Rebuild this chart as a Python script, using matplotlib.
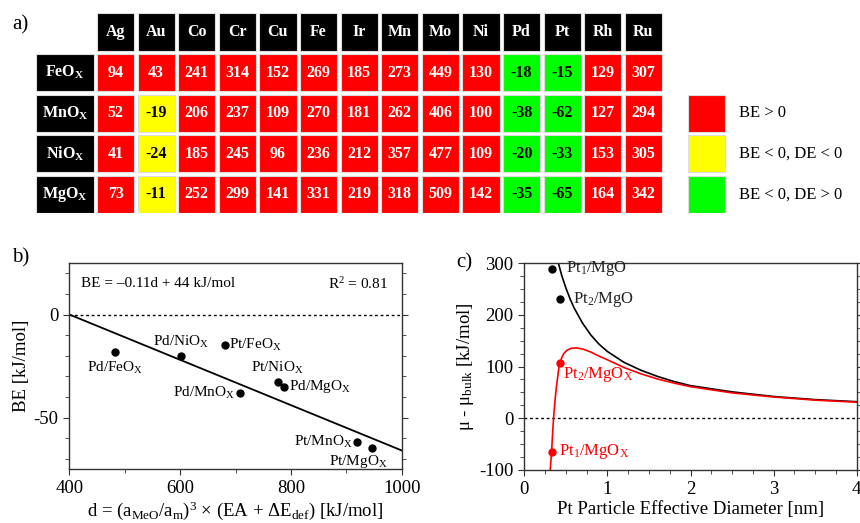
import matplotlib
matplotlib.use("Agg")
import matplotlib.pyplot as plt
from matplotlib.patches import Rectangle
from matplotlib.ticker import MultipleLocator
import numpy as np

plt.rcParams['font.family'] = ['Liberation Serif', 'DejaVu Serif']
plt.rcParams['mathtext.fontset'] = 'custom'
plt.rcParams['mathtext.rm'] = 'Liberation Serif'
plt.rcParams['mathtext.it'] = 'Liberation Serif:italic'
plt.rcParams['mathtext.bf'] = 'Liberation Serif:bold'
plt.rcParams['axes.unicode_minus'] = False

# ---- data: panel a (binding energies, kJ/mol) ----
metals = ['Ag', 'Au', 'Co', 'Cr', 'Cu', 'Fe', 'Ir', 'Mn', 'Mo', 'Ni', 'Pd', 'Pt', 'Rh', 'Ru']
supports = ['FeO', 'MnO', 'NiO', 'MgO']
be_feo = [94, 43, 241, 314, 152, 269, 185, 273, 449, 130, -18, -15, 129, 307]
be_mno = [52, -19, 206, 237, 109, 270, 181, 262, 406, 100, -38, -62, 127, 294]
be_nio = [41, -24, 185, 245, 96, 236, 212, 357, 477, 109, -20, -33, 153, 305]
be_mgo = [73, -11, 252, 299, 141, 331, 219, 318, 509, 142, -35, -65, 164, 342]
de_negative = ['Au']  # metals with DE < 0
legend_labels = ['BE > 0', 'BE < 0, DE < 0', 'BE < 0, DE > 0']

# ---- data: panel b ----
b_labels = ['Pd/FeO', 'Pd/NiO', 'Pt/FeO', 'Pd/MnO', 'Pt/NiO', 'Pd/MgO', 'Pt/MnO', 'Pt/MgO']
b_d = [483, 602, 681, 708, 776, 788, 920, 947]
b_be = [-18, -20, -15, -38, -33, -35, -62, -65]
fit_slope = -0.11
fit_icpt = 44

# ---- data: panel c ----
mgo_d = [0.41, 0.45, 0.5, 0.55, 0.6, 0.7, 0.8, 0.9, 1.0, 1.2, 1.4, 1.6, 1.8, 2.0, 2.5, 3.0, 3.5, 4.0]
mgo_mu = [300, 276, 252, 231, 213, 184, 161, 143, 129, 108, 93, 81, 71, 63, 51, 42, 36, 32]
mgox_d = [0.312, 0.321, 0.328, 0.337, 0.344, 0.352, 0.362, 0.373, 0.386, 0.402, 0.418, 0.43,
          0.45, 0.475, 0.51, 0.56, 0.62, 0.7, 0.8, 0.9, 1.0, 1.2, 1.4, 1.6, 1.8, 2.0,
          2.5, 3.0, 3.5, 4.0]
mgox_mu = [-100, -80, -65, -40, -20, 0, 20, 40, 60, 80, 100, 107,
           117, 125, 131, 135, 136, 134, 128, 120, 113, 98, 86, 76, 68, 61,
           49, 41, 35, 31]
pts_mgo_d = [0.33, 0.425]
pts_mgo_mu = [289, 230]
pts_mgox_d = [0.328, 0.43]
pts_mgox_mu = [-65, 107]

W, H = 860, 523
fig = plt.figure(figsize=(W / 100, H / 100), dpi=100)


def px_axes(x0, y0, x1, y1):
    return fig.add_axes([x0 / W, 1 - y1 / H, (x1 - x0) / W, (y1 - y0) / H])


# ================= panel a =================
pitch = 40.6
axa = px_axes(36, 13.3, 860, 13.3 + 4.92 * pitch)
axa.set_xlim(-1.5, (860 - 36) / pitch - 1.5)
axa.set_ylim(3.92, -1)
axa.axis('off')
cs = 0.92
ec = '#dddddd'

for j, m in enumerate(metals):
    axa.add_patch(Rectangle((j, -1), cs, cs, fc='black', ec=ec, lw=0.8))
    axa.text(j + cs / 2, -1 + cs / 2, m, color='white', ha='center', va='center',
             fontsize=11.5, fontweight='bold')

rows = [be_feo, be_mno, be_nio, be_mgo]
for i, (sup, vals) in enumerate(zip(supports, rows)):
    axa.add_patch(Rectangle((-1.5, i), 1.5 - 0.08, cs, fc='black', ec=ec, lw=0.8))
    axa.text(-0.79, i + cs / 2, sup + r'$_\mathbf{X}$', color='white', ha='center',
             va='center', fontsize=11.5, fontweight='bold')
    for j, v in enumerate(vals):
        if v > 0:
            fc, tc = '#ff0000', 'white'
        elif metals[j] in de_negative:
            fc, tc = '#ffff00', 'black'
        else:
            fc, tc = '#00ff00', 'black'
        axa.add_patch(Rectangle((j, i), cs, cs, fc=fc, ec=ec, lw=0.8))
        axa.text(j + cs / 2, i + cs / 2, str(v), color=tc, ha='center', va='center',
                 fontsize=11.5, fontweight='bold')

leg_x = 14.56
for k, (lab, fc) in enumerate(zip(legend_labels, ['#ff0000', '#ffff00', '#00ff00'])):
    axa.add_patch(Rectangle((leg_x, k + 1), cs, cs, fc=fc, ec=ec, lw=0.8))
    axa.text(leg_x + 1.25, k + 1 + cs / 2, lab, ha='left', va='center', fontsize=12)

fig.text(12 / W, 1 - 25 / H, 'a)', fontsize=15, va='center', ha='left')


def style(ax):
    for s in ax.spines.values():
        s.set_color('#333333')
        s.set_linewidth(1.0)
    ax.tick_params(which='both', direction='out', left=True, right=True, top=False,
                   labelsize=13.5, color='#333333')
    ax.tick_params(which='major', length=4.5)
    ax.tick_params(which='minor', length=3)


# ================= panel b =================
axb = px_axes(69.3, 263, 401.7, 469)
axb.set_xlim(400, 1000)
axb.set_ylim(-75, 25)
axb.xaxis.set_major_locator(MultipleLocator(200))
axb.xaxis.set_minor_locator(MultipleLocator(100))
axb.yaxis.set_major_locator(MultipleLocator(50))
axb.yaxis.set_minor_locator(MultipleLocator(10))
style(axb)
axb.axhline(0, color='black', ls=(0, (2, 2)), lw=1)
xf = np.array([400, 1000])
axb.plot(xf, fit_slope * xf + fit_icpt, color='black', lw=1.3)
axb.plot(b_d, b_be, 'o', color='black', ms=5)

# label placement: (dx, dy, ha, va)
offs = [(0, -4, 'center', 'top'), (0, 3, 'center', 'bottom'), (8, 0, 'left', 'center'),
        (-8, 0, 'right', 'center'), (0, 3, 'center', 'bottom'), (8, 0, 'left', 'center'),
        (-8, 0, 'right', 'center'), (-25, -2, 'center', 'top')]
for lab, x, y, (dx, dy, ha, va) in zip(b_labels, b_d, b_be, offs):
    axb.text(x + dx, y + dy, lab + r'$_\mathrm{X}$', ha=ha, va=va, fontsize=11)

axb.text(421, 15, 'BE = \u20130.11d + 44 kJ/mol', ha='left', va='center', fontsize=11)
axb.text(976, 15, r'R$^2$ = 0.81', ha='right', va='center', fontsize=11)
axb.set_ylabel('BE [kJ/mol]', fontsize=13.5, labelpad=2)
axb.set_xlabel(r'd = (a$_\mathrm{MeO}$/a$_\mathrm{m}$)$^3$' + ' \u00d7 (EA + \u0394E' +
               r'$_\mathrm{def}$) [kJ/mol]', fontsize=13.5, labelpad=2)
fig.text(12 / W, 1 - 258 / H, 'b)', fontsize=15, va='center', ha='left')

# ================= panel c =================
axc = px_axes(524.3, 263, 856.7, 470)
axc.set_xlim(0, 4)
axc.set_ylim(-100, 300)
axc.xaxis.set_major_locator(MultipleLocator(1))
axc.xaxis.set_minor_locator(MultipleLocator(0.25))
axc.yaxis.set_major_locator(MultipleLocator(100))
axc.yaxis.set_minor_locator(MultipleLocator(25))
style(axc)
axc.axhline(0, color='black', ls=(0, (2, 2)), lw=1)
axc.plot(mgo_d, mgo_mu, color='black', lw=1.2)
axc.plot(mgox_d, mgox_mu, color='#ff0000', lw=1.2)
axc.plot(pts_mgo_d, pts_mgo_mu, 'o', color='black', ms=5)
axc.plot(pts_mgox_d, pts_mgox_mu, 'o', color='#ff0000', ms=5)
axc.text(0.5, 289, r'Pt$_1$/MgO', fontsize=12, va='center', ha='left', color='#222222')
axc.text(0.59, 230, r'Pt$_2$/MgO', fontsize=12, va='center', ha='left', color='#222222')
axc.text(0.46, 84, r'Pt$_2$/MgO$_\mathrm{X}$', fontsize=12, va='center', ha='left', color='#ff0000')
axc.text(0.42, -65, r'Pt$_1$/MgO$_\mathrm{X}$', fontsize=12, va='center', ha='left', color='#ff0000')
axc.set_xlabel('Pt Particle Effective Diameter [nm]', fontsize=13.5, labelpad=2)
axc.set_ylabel(r'$\mathrm{\mu}$ - $\mathrm{\mu}_\mathrm{bulk}$ [kJ/mol]', fontsize=13.5, labelpad=2)
fig.text(456 / W, 1 - 263 / H, 'c)', fontsize=15, va='center', ha='left')

fig.savefig('out.png', dpi=100)
